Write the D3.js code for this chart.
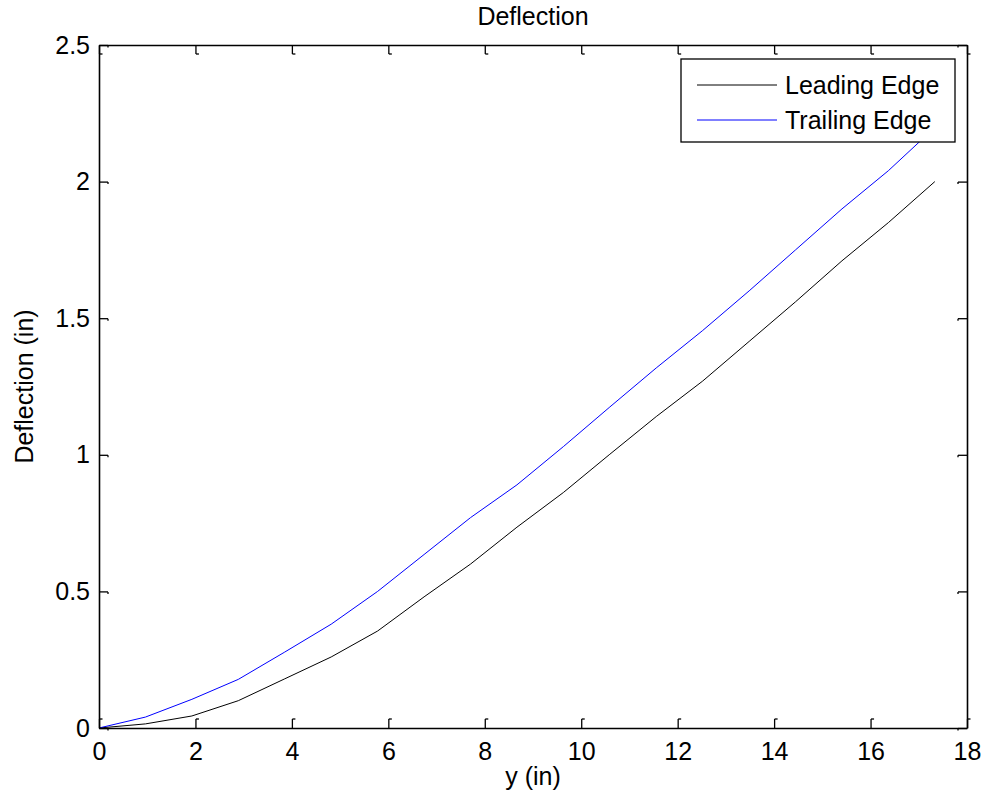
<!DOCTYPE html>
<html>
<head>
<meta charset="utf-8">
<script src="https://cdn.jsdelivr.net/npm/d3@7"></script>
<style>
  body { margin: 0; background: #fff; }
  text { font-family: "Liberation Sans", Arial, sans-serif; fill: #000; }
</style>
</head>
<body>
<div id="chart"></div>
<script>
// span positions along the edge (in)
const spanY = [0, 0.963, 1.926, 2.889, 3.852, 4.815, 5.778, 6.741, 7.704, 8.667,
  9.63, 10.593, 11.556, 12.519, 13.482, 14.444, 15.407, 16.37, 17.333];
const leadingEdge = [0, 0.015, 0.044, 0.100, 0.180, 0.260, 0.355, 0.480, 0.600, 0.735,
  0.862, 1.002, 1.140, 1.270, 1.415, 1.560, 1.710, 1.850, 2.000];
const trailingEdge = [0, 0.040, 0.105, 0.178, 0.278, 0.380, 0.500, 0.635, 0.770, 0.890,
  1.030, 1.175, 1.318, 1.455, 1.600, 1.750, 1.900, 2.040, 2.198];
const seriesNames = ["Leading Edge", "Trailing Edge"];
const seriesColors = ["#000000", "#0000ff"];
const xTicks = [0, 2, 4, 6, 8, 10, 12, 14, 16, 18];
const yTicks = [0, 0.5, 1, 1.5, 2, 2.5];

const width = 986, height = 803;
const margin = { top: 45, right: 19, bottom: 75, left: 99 };
const innerW = width - margin.left - margin.right;
const innerH = height - margin.top - margin.bottom;
const tickLen = 9, hook = 3;
const fontSize = "25px";

const svg = d3.select("#chart").append("svg")
  .attr("width", width)
  .attr("height", height);

const g = svg.append("g")
  .attr("transform", `translate(${margin.left},${margin.top})`);

const x = d3.scaleLinear().domain([0, 18]).range([0, innerW]);
const y = d3.scaleLinear().domain([0, 2.5]).range([innerH, 0]);

// lines
const line = d3.line()
  .x((d, i) => x(spanY[i]))
  .y(d => y(d));

[leadingEdge, trailingEdge].forEach((s, k) => {
  g.append("path")
    .datum(s)
    .attr("fill", "none")
    .attr("stroke", seriesColors[k])
    .attr("stroke-width", 1)
    .attr("d", line);
});

// axes, ticks inward on all four sides
function styleAxis(sel, hookFn) {
  sel.select(".domain").attr("stroke", "#000").attr("stroke-width", 1.6);
  sel.selectAll(".tick line").attr("stroke", "#000").attr("stroke-width", 1.3);
  sel.selectAll(".tick text")
    .style("font-size", fontSize)
    .style("font-family", '"Liberation Sans", Arial, sans-serif');
  sel.selectAll(".tick").append("line")
    .attr("stroke", "#000").attr("stroke-width", 1.3)
    .each(function() { hookFn(d3.select(this)); });
}

const xBottom = g.append("g")
  .attr("transform", `translate(0,${innerH})`)
  .call(d3.axisBottom(x).tickValues(xTicks).tickSizeInner(-tickLen).tickSizeOuter(0).tickPadding(14));
styleAxis(xBottom, l => l.attr("x1", 0).attr("x2", hook).attr("y1", -tickLen).attr("y2", -tickLen));

const xTop = g.append("g")
  .call(d3.axisTop(x).tickValues(xTicks).tickSizeInner(-tickLen).tickSizeOuter(0).tickFormat(""));
styleAxis(xTop, l => l.attr("x1", 0).attr("x2", hook).attr("y1", tickLen).attr("y2", tickLen));

const yLeft = g.append("g")
  .call(d3.axisLeft(y).tickValues(yTicks).tickSizeInner(-tickLen).tickSizeOuter(0).tickPadding(9).tickFormat(d3.format("")));
styleAxis(yLeft, l => l.attr("x1", tickLen).attr("x2", tickLen).attr("y1", 0).attr("y2", 2));

const yRight = g.append("g")
  .attr("transform", `translate(${innerW},0)`)
  .call(d3.axisRight(y).tickValues(yTicks).tickSizeInner(-tickLen).tickSizeOuter(0).tickFormat(""));
styleAxis(yRight, l => l.attr("x1", -tickLen).attr("x2", -tickLen).attr("y1", 0).attr("y2", 2));

// titles
svg.append("text")
  .attr("x", margin.left + innerW / 2)
  .attr("y", 25)
  .attr("text-anchor", "middle")
  .style("font-size", fontSize)
  .text("Deflection");

svg.append("text")
  .attr("x", margin.left + innerW / 2)
  .attr("y", 785)
  .attr("text-anchor", "middle")
  .style("font-size", fontSize)
  .text("y (in)");

svg.append("text")
  .attr("transform", `translate(33,${margin.top + innerH / 2}) rotate(-90)`)
  .attr("text-anchor", "middle")
  .style("font-size", fontSize)
  .text("Deflection (in)");

// legend
const legend = svg.append("g").attr("transform", "translate(681,59)");
legend.append("rect")
  .attr("width", 274)
  .attr("height", 83)
  .attr("fill", "#fff")
  .attr("stroke", "#000")
  .attr("stroke-width", 1.3);

seriesNames.forEach((name, k) => {
  const row = legend.append("g").attr("transform", `translate(0,${26 + k * 35})`);
  row.append("line")
    .attr("x1", 16).attr("x2", 96)
    .attr("stroke", seriesColors[k])
    .attr("stroke-width", 1);
  row.append("text")
    .attr("x", 104)
    .attr("dy", "0.35em")
    .style("font-size", fontSize)
    .text(name);
});
</script>
</body>
</html>
